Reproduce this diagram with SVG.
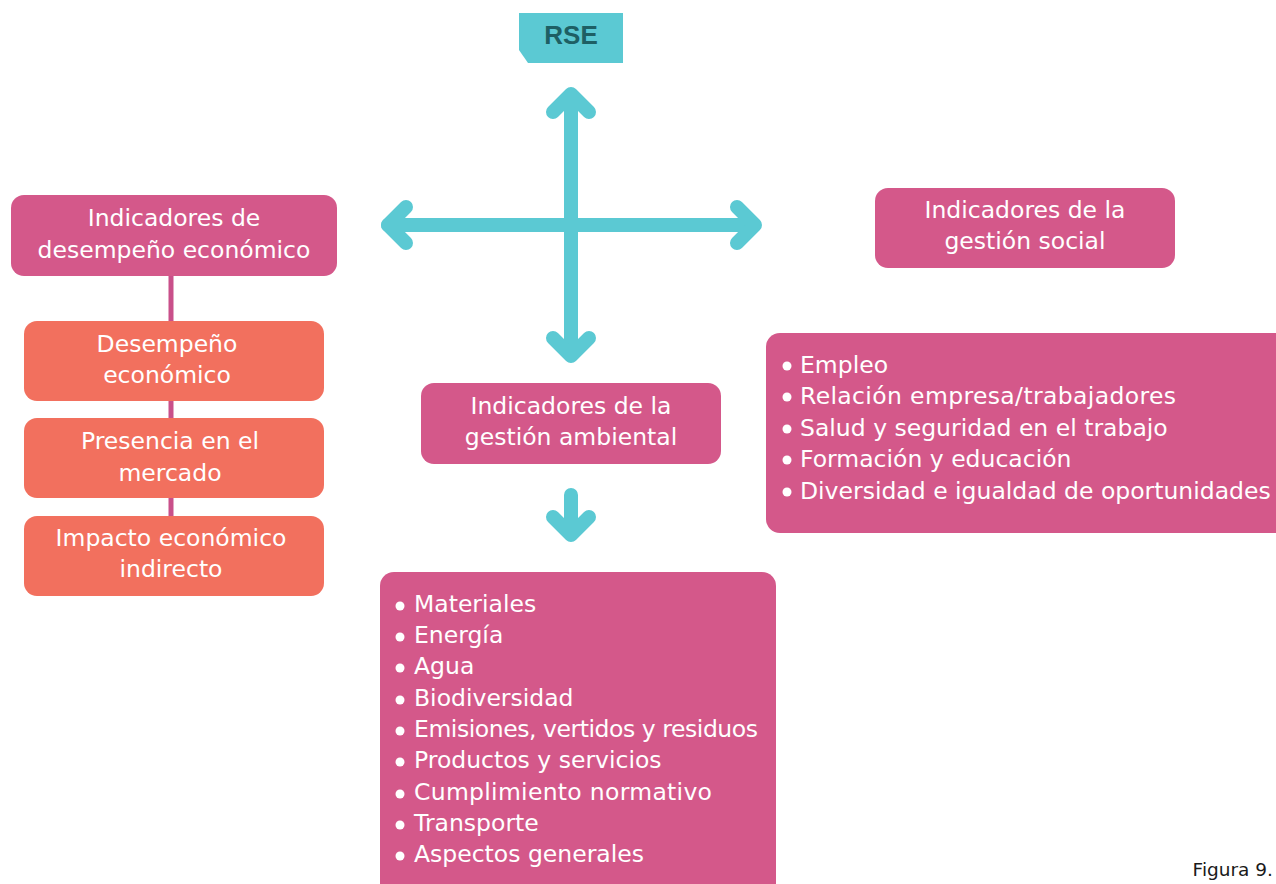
<svg xmlns="http://www.w3.org/2000/svg" width="1276" height="884" viewBox="0 0 1276 884">
<style>
.pink{fill:#d4588a}
.coral{fill:#f2705e}
.t{font-family:"DejaVu Sans","Liberation Sans",sans-serif;font-size:23.5px;fill:#ffffff}
.c{text-anchor:middle}
.arrow{fill:none;stroke:#5bc9d3;stroke-width:14;stroke-linecap:round;stroke-linejoin:round}
.bul{fill:#ffffff}
</style>
<rect width="1276" height="884" fill="#ffffff"/>
<g id="connectors">
<line x1="171" y1="276" x2="171" y2="520" stroke="#c9508a" stroke-width="5"/>
<path class="arrow" d="M571 96 V354 M388 225 H753"/>
<path class="arrow" d="M553 112 L571 94 L589 112"/>
<path class="arrow" d="M553 338 L571 356 L589 338"/>
<path class="arrow" d="M406 207 L388 225 L406 243"/>
<path class="arrow" d="M737 207 L755 225 L737 243"/>
<path class="arrow" d="M571 495 V533 M553 517 L571 535 L589 517"/>
</g>
<g id="rse">
<path d="M519 13 H623 V63 H528 L519 50 Z" fill="#5bc9d3"/>
<text x="571" y="44" text-anchor="middle" font-family="'Liberation Sans',Arial,sans-serif" font-weight="bold" font-size="26" fill="#1e5f64">RSE</text>
</g>
<g id="econ">
<rect class="pink" x="11" y="195" width="326" height="81" rx="13"/>
<text class="t c" x="174" y="226">Indicadores de</text>
<text class="t c" x="174" y="258">desempeño económico</text>
</g>
<g id="desempeno">
<rect class="coral" x="24" y="321" width="300" height="80" rx="13"/>
<text class="t c" x="167" y="352">Desempeño</text>
<text class="t c" x="167" y="383">económico</text>
</g>
<g id="presencia">
<rect class="coral" x="24" y="418" width="300" height="80" rx="13"/>
<text class="t c" x="170" y="449">Presencia en el</text>
<text class="t c" x="170" y="481">mercado</text>
</g>
<g id="impacto">
<rect class="coral" x="24" y="516" width="300" height="80" rx="13"/>
<text class="t c" x="171" y="546">Impacto económico</text>
<text class="t c" x="171" y="577">indirecto</text>
</g>
<g id="social">
<rect class="pink" x="875" y="188" width="300" height="80" rx="13"/>
<text class="t c" x="1025" y="218">Indicadores de la</text>
<text class="t c" x="1025" y="249">gestión social</text>
</g>
<g id="ambiental">
<rect class="pink" x="421" y="383" width="300" height="81" rx="13"/>
<text class="t c" x="571" y="414">Indicadores de la</text>
<text class="t c" x="571" y="445">gestión ambiental</text>
</g>
<g id="social-list">
<rect class="pink" x="766" y="333" width="530" height="200" rx="14"/>
<circle class="bul" cx="787" cy="366" r="4.5"/>
<circle class="bul" cx="787" cy="397" r="4.5"/>
<circle class="bul" cx="787" cy="429" r="4.5"/>
<circle class="bul" cx="787" cy="460" r="4.5"/>
<circle class="bul" cx="787" cy="492" r="4.5"/>
<text class="t" x="800" y="373">Empleo</text>
<text class="t" x="800" y="404" textLength="376" lengthAdjust="spacing">Relación empresa/trabajadores</text>
<text class="t" x="800" y="436">Salud y seguridad en el trabajo</text>
<text class="t" x="800" y="467">Formación y educación</text>
<text class="t" x="800" y="499">Diversidad e igualdad de oportunidades</text>
</g>
<g id="ambiental-list">
<rect class="pink" x="380" y="572" width="396" height="330" rx="14"/>
<circle class="bul" cx="400" cy="606" r="4.5"/>
<circle class="bul" cx="400" cy="637" r="4.5"/>
<circle class="bul" cx="400" cy="668" r="4.5"/>
<circle class="bul" cx="400" cy="700" r="4.5"/>
<circle class="bul" cx="400" cy="731" r="4.5"/>
<circle class="bul" cx="400" cy="762" r="4.5"/>
<circle class="bul" cx="400" cy="794" r="4.5"/>
<circle class="bul" cx="400" cy="825" r="4.5"/>
<circle class="bul" cx="400" cy="856" r="4.5"/>
<text class="t" x="414" y="612">Materiales</text>
<text class="t" x="414" y="643">Energía</text>
<text class="t" x="414" y="674">Agua</text>
<text class="t" x="414" y="706">Biodiversidad</text>
<text class="t" x="414" y="737" textLength="344" lengthAdjust="spacing">Emisiones, vertidos y residuos</text>
<text class="t" x="414" y="768">Productos y servicios</text>
<text class="t" x="414" y="800" textLength="298" lengthAdjust="spacing">Cumplimiento normativo</text>
<text class="t" x="414" y="831">Transporte</text>
<text class="t" x="414" y="862">Aspectos generales</text>
</g>
<text x="1273" y="876" text-anchor="end" font-family="'DejaVu Sans',sans-serif" font-size="18.5" fill="#1a1a1a">Figura 9.</text>
</svg>
